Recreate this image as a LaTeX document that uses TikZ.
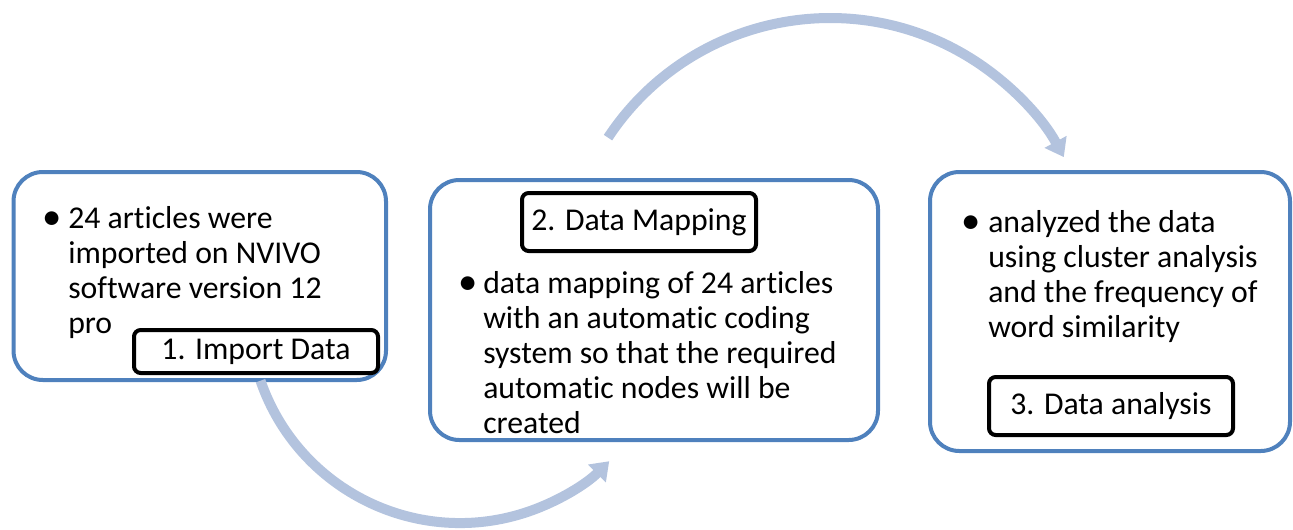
\documentclass[tikz,border=0pt]{standalone}
\usepackage{fontspec}
\setmainfont{Carlito}[Ligatures=NoCommon]
\usetikzlibrary{arrows.meta}
\definecolor{boxblue}{HTML}{4F81BD}
\definecolor{arrowblue}{HTML}{B3C3DE}
\tikzset{
  outerbox/.style={draw=boxblue, line width=3pt, rounded corners=22pt, fill=white},
  labelbox/.style={draw=black, line width=3pt, rounded corners=5pt, fill=white, inner sep=0pt,
    font=\fontsize{23.8}{26.3}\selectfont},
  bodytext/.style={anchor=base west, inner sep=0pt, font=\fontsize{23.8}{26.3}\selectfont},
  bulletmark/.style={anchor=base, inner sep=0pt, font=\fontsize{29}{30}\selectfont},
  flowarrow/.style={draw=arrowblue, line width=7.5pt, -{Triangle[length=13pt,width=18pt]}}
}
\begin{document}
\begin{tikzpicture}[x=0.75pt,y=-0.75pt]
\useasboundingbox (0,0) rectangle (1293,529);
% outer boxes
\draw[outerbox] (13.5,172) rectangle (386,380);
\draw[outerbox] (430,180) rectangle (878,440);
\draw[outerbox] (930,172) rectangle (1290,451);
% box 1 text
\node[bulletmark] (b1) at (52,229) {•};
\node[bodytext] (t1) at (68,228) {\parbox[t]{300pt}{\raggedright 24 articles were\\imported on NVIVO\\software version 12\\pro}};
\node[labelbox, minimum width=244*0.75pt, minimum height=43*0.75pt] (l1) at (256,351.5) {1. Import Data};
% box 2 text
\node[labelbox, minimum width=234*0.75pt, minimum height=58*0.75pt] (l2) at (639,222) {2. Data Mapping};
\node[bulletmark] (b2) at (468,294) {•};
\node[bodytext] (t2) at (483,293) {\parbox[t]{320pt}{\raggedright data mapping of 24 articles\\with an automatic coding\\system so that the required\\automatic nodes will be\\created}};
% box 3 text
\node[bulletmark] (b3) at (971,233) {•};
\node[bodytext] (t3) at (988,232) {\parbox[t]{300pt}{\raggedright analyzed the data\\using cluster analysis\\and the frequency of\\word similarity}};
\node[labelbox, minimum width=244*0.75pt, minimum height=58*0.75pt] (l3) at (1111,406) {3. Data analysis};
% arrows
\coordinate (a1s) at (260.5,380.7);
\coordinate (a2s) at (608,137.6);
\draw[flowarrow] (a1s) arc[start angle=161, end angle=45, radius=211];
\draw[flowarrow] (a2s) arc[start angle=-146.6, end angle=-28.5, radius=266];
\end{tikzpicture}
\end{document}
